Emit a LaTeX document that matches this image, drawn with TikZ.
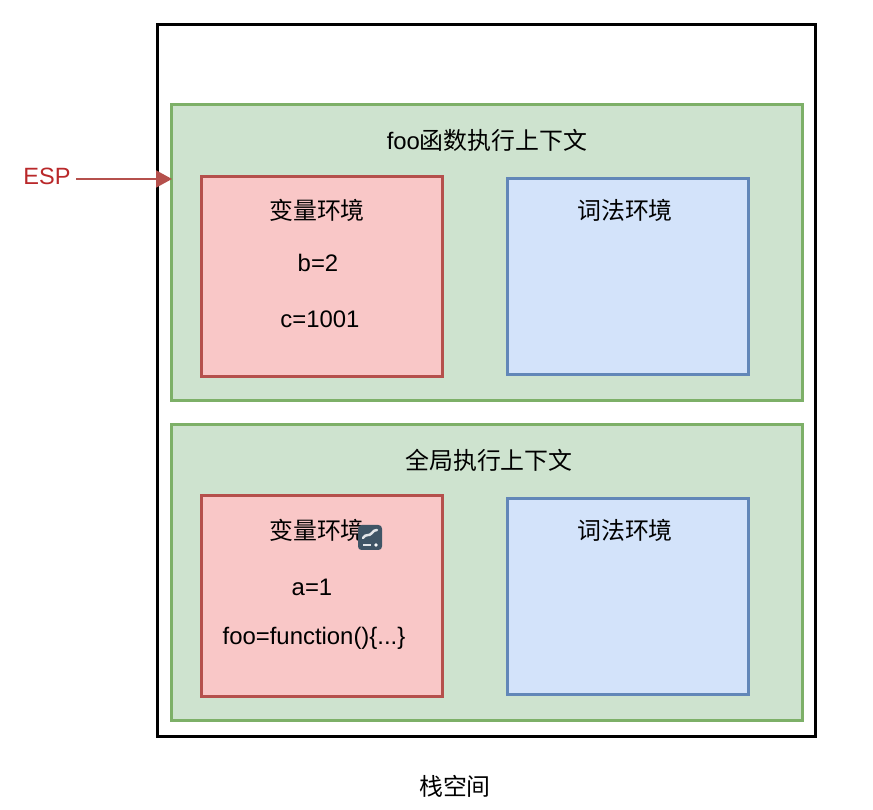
\documentclass[tikz,border=0pt]{standalone}
\usepackage{fontspec}
\setmainfont{Liberation Sans}
\newfontfamily\cjk{Noto Sans CJK SC}
\usetikzlibrary{positioning, arrows.meta}
\definecolor{ctxfill}{HTML}{CEE3CF}
\definecolor{ctxline}{HTML}{7DB068}
\definecolor{varfill}{HTML}{F9C7C7}
\definecolor{varline}{HTML}{B5504C}
\definecolor{lexfill}{HTML}{D3E3FA}
\definecolor{lexline}{HTML}{6287B8}
\definecolor{espred}{HTML}{B9282A}
\definecolor{iconfill}{HTML}{3F5566}
\tikzset{
    stackbox/.style={draw=black, line width=1.7pt, minimum width=13.18cm, minimum height=14.26cm, outer sep=0pt},
    ctxbox/.style={draw=ctxline, fill=ctxfill, line width=1.7pt, minimum width=12.64cm, minimum height=5.94cm, outer sep=0pt},
    varbox/.style={draw=varline, fill=varfill, line width=1.7pt, minimum width=4.84cm, minimum height=4.02cm, outer sep=0pt},
    lexbox/.style={draw=lexline, fill=lexfill, line width=1.7pt, minimum width=4.84cm, minimum height=3.94cm, outer sep=0pt},
    label/.style={font=\fontsize{13.6}{16}\selectfont, text=black, inner sep=0pt},
}

\begin{document}
\begin{tikzpicture}[x=0.02cm, y=-0.02cm]
    \useasboundingbox (0,0) rectangle (873,810);

    % outer stack frame
    \node[stackbox] (stack) at (486.5,380.5) {};
    \node[label] (stacktitle) at (455,786) {\cjk 栈空间};

    % foo context
    \node[ctxbox] (fooctx) at (487,252.5) {};
    \node[label] (footitle) at (487,140) {foo{\cjk 函数执行上下文}};
    \node[varbox] (foovar) at (322,276.5) {};
    \node[lexbox] (foolex) at (628,276.5) {};
    \node[label] (foovartitle) at (317,210) {\cjk 变量环境};
    \node[label] (foob) at (318,263) {b=2};
    \node[label] (fooc) at (320,319) {c=1001};
    \node[label] (foolextitle) at (625,210) {\cjk 词法环境};

    % global context
    \node[ctxbox] (globalctx) at (487,572.5) {};
    \node[label] (globaltitle) at (489,460) {\cjk 全局执行上下文};
    \node[varbox] (globalvar) at (322,596) {};
    \node[lexbox] (globallex) at (628,596.5) {};
    \node[label] (globalvartitle) at (317,530) {\cjk 变量环境};
    \node[label] (globala) at (312,587) {a=1};
    \node[label] (globalfoo) at (314,638) {foo=function()\{...\}};
    \node[label] (globallextitle) at (625,530) {\cjk 词法环境};

    % small icon over the text
    \fill[iconfill, rounded corners=2pt] (358,525) rectangle (382,550);
    \draw[white!85!iconfill, line width=1.4pt, line cap=round] (363,538) .. controls (366,533) and (369,537) .. (372,533) .. controls (373,531) and (375,530) .. (377,530);
    \draw[white!85!iconfill, line width=1pt] (363,545) -- (371,545);
    \fill[white] (376,545) circle (1.8);

    % stack pointer
    \node[font=\fontsize{13.4}{16}\selectfont, text=espred, inner sep=0pt] (esp) at (47,176) {ESP};
    \coordinate (esptip) at (172,179);
    \draw[varline, line width=1.1pt, -{Triangle[length=3.2mm, width=3.4mm]}] (76,179) -- (esptip);
\end{tikzpicture}
\end{document}
